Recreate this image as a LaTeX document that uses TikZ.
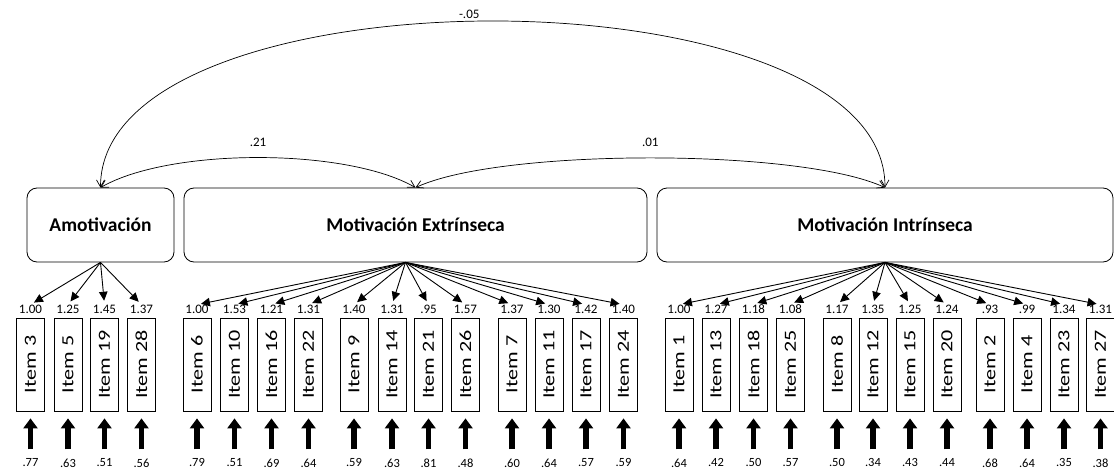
\documentclass[tikz,border=0pt]{standalone}
\usepackage{fontspec}
\setmainfont{Carlito}
\usetikzlibrary{arrows.meta, positioning}

\newcommand{\itemtext}[1]{\rotatebox{90}{\scalebox{1.3}[1]{Item #1}}}

\begin{document}
\begin{tikzpicture}[
        x=1pt, y=1pt,
        factor/.style={draw, rounded corners=10pt, minimum height=74pt, line width=0.8pt,
            font=\fontsize{19.5}{19.5}\selectfont\bfseries},
        item/.style={draw, minimum width=28pt, minimum height=93pt, inner sep=0pt, line width=0.8pt,
            font=\fontsize{17}{17}\selectfont},
        num/.style={inner sep=0pt, font=\fontsize{13}{13}\selectfont},
        errnum/.style={inner sep=0pt, font=\fontsize{12.5}{12.5}\selectfont},
        load/.style={-{Triangle[length=9pt,width=8.5pt]}, line width=0.9pt, shorten >=4pt},
        err/.style={-{Triangle[length=10pt,width=14pt]}, line width=5.5pt, shorten <=9pt, shorten >=7pt},
        cov/.style={{Straight Barb[length=7pt,width=8pt]}-{Straight Barb[length=7pt,width=8pt]}, line width=0.7pt}
    ]
        \useasboundingbox (0,0) rectangle (1114,475);

        % Factores
        \node[factor, minimum width=147pt] (A) at (100.5,250) {Amotivación};
        \node[factor, minimum width=463pt] (E) at (415.5,250) {Motivación Extrínseca};
        \node[factor, minimum width=456pt] (I) at (885,250) {Motivación Intrínseca};
        \coordinate (Eb) at ([xshift=-10pt]E.south);

        % Covarianzas
        \draw[cov] (A.north) to[out=90, in=90, looseness=0.725]
            node[num, pos=0.48, above=3pt] {-.05} (I.north);
        \draw[cov] (A.north) to[out=30, in=150, looseness=0.65]
            node[num, midway, above=11pt] {.21} (E.north);
        \draw[cov] (E.north) to[out=25, in=155, looseness=0.51]
            node[num, midway, above=11pt] {.01} (I.north);

        % Amotivación
        \foreach \nr/\xc/\ld/\er in {3/30.5/1.00/.77, 5/68/1.25/.63, 19/104.5/1.45/.51, 28/141.5/1.37/.56} {
            \node[item] (i\nr) at (\xc,110.5) {\itemtext{\nr}};
            \node[num, above=4pt of i\nr] (l\nr) {\ld};
            \node[errnum, below=47pt of i\nr] (e\nr) {\er};
            \draw[load] (A.south) -- (l\nr.north);
            \draw[err] (e\nr.north) -- (i\nr.south);
        }

        % Motivación Extrínseca
        \foreach \nr/\xc/\ld/\er in {6/197/1.00/.79, 10/234.5/1.53/.51, 16/271.5/1.21/.69, 22/308.5/1.31/.64,
                9/354/1.40/.59, 14/392/1.31/.63, 21/428.5/.95/.81, 26/465.5/1.57/.48,
                7/512/1.37/.60, 11/549/1.30/.64, 17/586/1.42/.57, 24/623.5/1.40/.59} {
            \node[item] (i\nr) at (\xc,110.5) {\itemtext{\nr}};
            \node[num, above=4pt of i\nr] (l\nr) {\ld};
            \node[errnum, below=47pt of i\nr] (e\nr) {\er};
            \draw[load] (Eb) -- (l\nr.north);
            \draw[err] (e\nr.north) -- (i\nr.south);
        }

        % Motivación Intrínseca
        \foreach \nr/\xc/\ld/\er in {1/679/1.00/.64, 13/716/1.27/.42, 18/753.5/1.18/.50, 25/790.5/1.08/.57,
                8/837/1.17/.50, 12/873/1.35/.34, 15/910/1.25/.43, 20/947/1.24/.44,
                2/990/.93/.68, 4/1027/.99/.64, 23/1064/1.34/.35, 27/1100.5/1.31/.38} {
            \node[item] (i\nr) at (\xc,110.5) {\itemtext{\nr}};
            \node[num, above=4pt of i\nr] (l\nr) {\ld};
            \node[errnum, below=47pt of i\nr] (e\nr) {\er};
            \draw[load] (I.south) -- (l\nr.north);
            \draw[err] (e\nr.north) -- (i\nr.south);
        }
    \end{tikzpicture}
\end{document}
